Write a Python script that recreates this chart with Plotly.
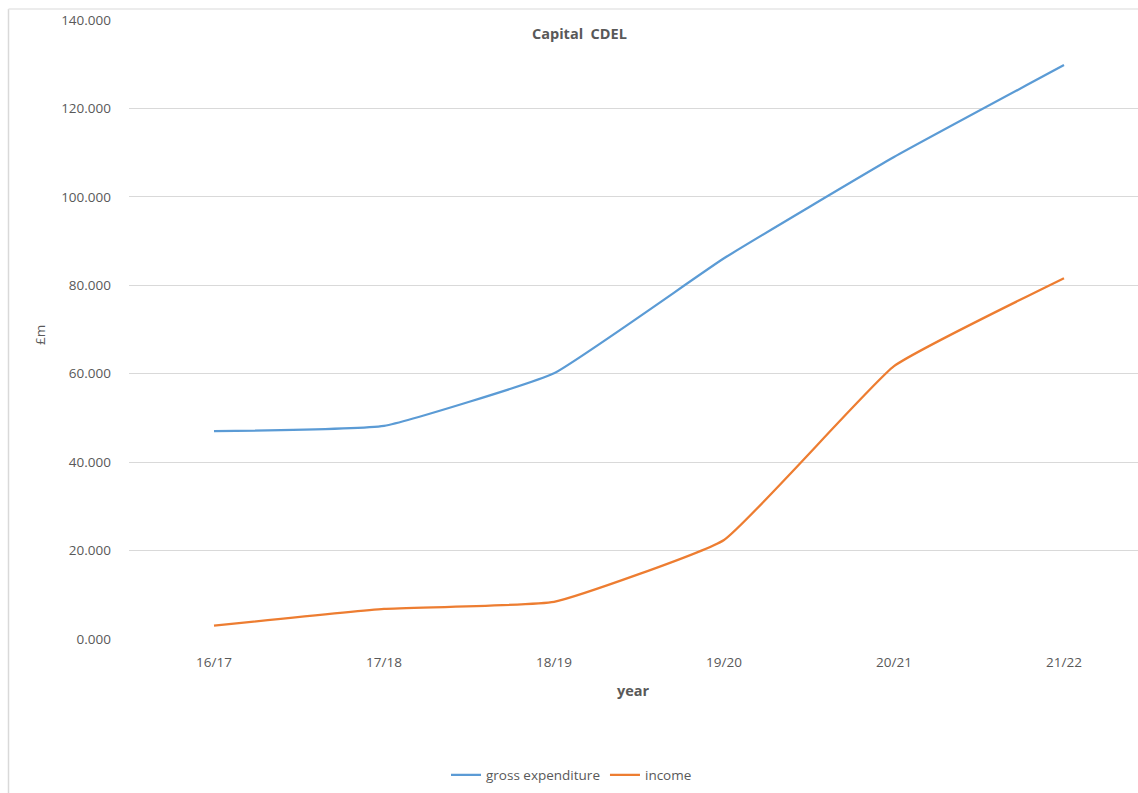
import plotly.graph_objects as go

years = ["16/17", "17/18", "18/19", "19/20", "20/21", "21/22"]
gross_expenditure = [47.0, 48.2, 60.1, 86.1, 109.0, 129.8]
income = [3.0, 6.8, 8.4, 22.4, 61.7, 81.6]
y_ticks = [0, 20, 40, 60, 80, 100, 120, 140]

FONT = "'Open Sans', Lato, sans-serif"
GREY = "#595959"

fig = go.Figure()
fig.add_trace(go.Scatter(
    x=list(range(len(years))), y=gross_expenditure, mode="lines",
    name="gross expenditure",
    line=dict(color="#5b9bd5", width=2.25, shape="spline", smoothing=0.35),
))
fig.add_trace(go.Scatter(
    x=list(range(len(years))), y=income, mode="lines",
    name="income",
    line=dict(color="#ed7d31", width=2.25, shape="spline", smoothing=0.35),
))

W, H = 1138, 793
L, R, T, B = 129, 0, 20, 154
pw = W - L - R
ph = H - T - B

def px_x(px):
    return (px - L) / pw

def px_y(py):
    return (H - B - py) / ph

fig.update_layout(
    width=W, height=H,
    margin=dict(l=L, r=R, t=T, b=B),
    paper_bgcolor="white", plot_bgcolor="white",
    font=dict(family=FONT, color=GREY, size=13),
    showlegend=True,
    legend=dict(
        orientation="h", x=px_x(446), y=px_y(775), xanchor="left", yanchor="middle",
        font=dict(size=13.5, color=GREY), itemwidth=30, tracegroupgap=0,
    ),
    xaxis=dict(
        range=[-0.5, -0.5 + pw / 170.0],
        tickmode="array", tickvals=list(range(len(years))), ticktext=years,
        showgrid=False, zeroline=False, showline=False, ticks="",
        ticklabelstandoff=13,
        tickfont=dict(size=13.5, color=GREY),
    ),
    yaxis=dict(
        range=[0, 140], tickmode="array", tickvals=y_ticks,
        ticktext=[f"{v:.3f}" for v in y_ticks],
        showgrid=True, gridcolor="#d9d9d9", gridwidth=1,
        zeroline=False, showline=False, ticks="",
        ticklabelstandoff=17,
        tickfont=dict(size=13.5, color=GREY),
    ),
    annotations=[
        dict(text="<b>Capital  CDEL</b>", xref="paper", yref="paper",
             x=px_x(579), y=px_y(33), xanchor="center", yanchor="middle",
             showarrow=False, font=dict(size=14.5, color=GREY, family=FONT)),
        dict(text="<b>year</b>", xref="paper", yref="paper",
             x=px_x(633), y=px_y(690), xanchor="center", yanchor="middle",
             showarrow=False, font=dict(size=14.5, color=GREY, family=FONT)),
        dict(text="£m", xref="paper", yref="paper", textangle=-90,
             x=px_x(40), y=px_y(335), xanchor="center", yanchor="middle",
             showarrow=False, font=dict(size=13.5, color=GREY, family=FONT)),
    ],
    shapes=[
        dict(type="line", xref="paper", yref="paper",
             x0=px_x(8.5), x1=px_x(8.5), y0=px_y(9), y1=px_y(793),
             line=dict(color="#d9d9d9", width=1.5)),
        dict(type="line", xref="paper", yref="paper",
             x0=px_x(8.5), x1=px_x(1138), y0=px_y(9), y1=px_y(9),
             line=dict(color="#e6e6e6", width=1.5)),
    ],
)

fig.write_html("out.html")
